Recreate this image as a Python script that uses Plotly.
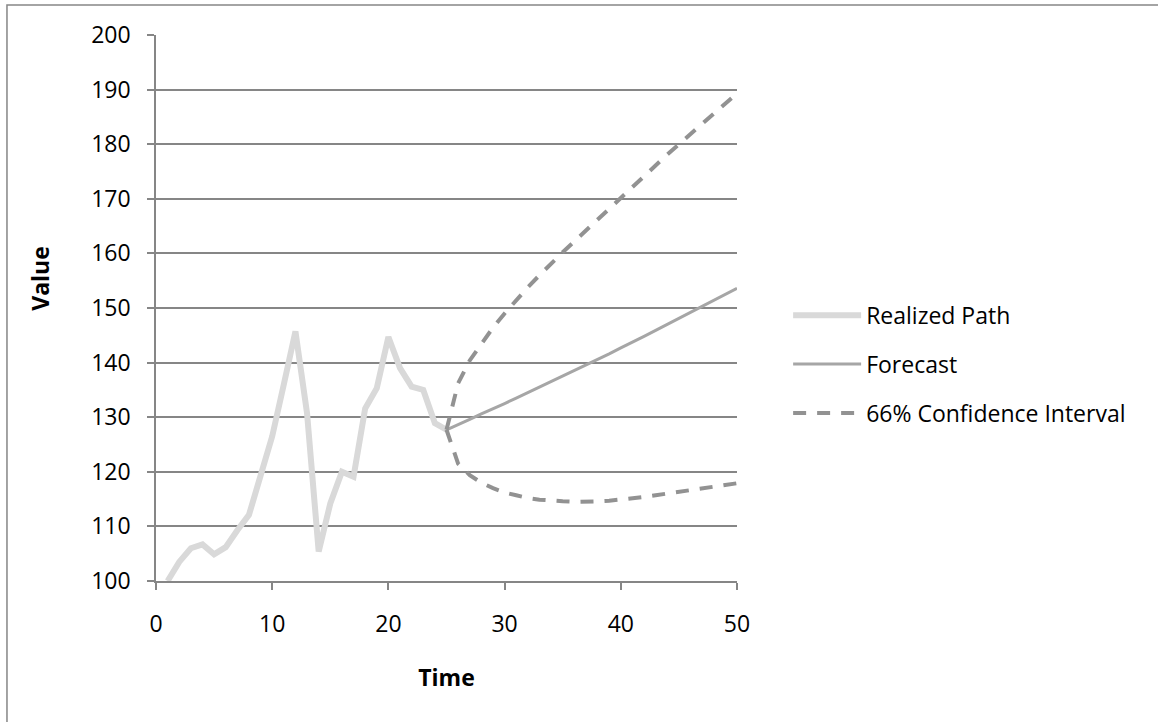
import plotly.graph_objects as go

# Observed path (t = 1..25)
realized_t = list(range(1, 26))
realized_v = [100.0, 103.5, 106.0, 106.7, 104.9, 106.2, 109.3, 112.1, 119.3, 126.5,
              136.0, 145.7, 130.7, 105.4, 114.2, 120.0, 119.1, 131.6, 135.3, 144.7,
              139.0, 135.6, 135.0, 128.9, 127.7]

# Forecast horizon (t = 25..50)
forecast_t = list(range(25, 51))
forecast_v = [127.7, 128.6, 129.6, 130.6, 131.5, 132.5, 133.5, 134.5, 135.5, 136.5,
              137.5, 138.5, 139.5, 140.6, 141.6, 142.7, 143.7, 144.8, 145.9, 147.0,
              148.0, 149.1, 150.2, 151.4, 152.5, 153.6]

# 66% band around the forecast
ci_upper = [127.7, 136.2, 140.4, 143.5, 146.4, 149.0, 151.5, 153.8, 156.0, 158.2,
            160.2, 162.2, 164.2, 166.2, 168.3, 170.3, 172.2, 174.2, 176.2, 178.1,
            180.0, 181.9, 183.7, 185.6, 187.5, 189.3]
ci_lower = [127.7, 121.5, 119.4, 118.0, 117.0, 116.2, 115.7, 115.2, 114.9, 114.7,
            114.6, 114.5, 114.5, 114.6, 114.7, 114.9, 115.1, 115.4, 115.7, 116.0,
            116.3, 116.6, 116.9, 117.2, 117.6, 117.9]

y_ticks = [100, 110, 120, 130, 140, 150, 160, 170, 180, 190, 200]
x_ticks = [0, 10, 20, 30, 40, 50]

FONT = "Open Sans"
FSIZE = 23
AXIS_GREY = "#868686"
CI_GREY = "#929292"
DASH = "13px,11px"

fig = go.Figure()

fig.add_trace(go.Scatter(
    x=realized_t, y=realized_v, mode="lines", name="Realized Path",
    legendgroup="a", line=dict(color="#D9D9D9", width=6),
))
fig.add_trace(go.Scatter(
    x=forecast_t, y=forecast_v, mode="lines", name="Forecast",
    legendgroup="b", line=dict(color="#A6A6A6", width=3),
))
fig.add_trace(go.Scatter(
    x=forecast_t, y=ci_upper, mode="lines", name="66% Confidence Interval",
    legendgroup="c", line=dict(color=CI_GREY, width=4, dash=DASH),
))
fig.add_trace(go.Scatter(
    x=forecast_t, y=ci_lower, mode="lines", name="66% Confidence Interval",
    legendgroup="c", showlegend=False,
    line=dict(color=CI_GREY, width=4, dash=DASH),
))

fig.update_layout(
    width=1158, height=722,
    margin=dict(l=156, r=421, t=35, b=141),
    paper_bgcolor="white", plot_bgcolor="white",
    font=dict(family=FONT, size=FSIZE, color="#000000"),
    showlegend=True,
    legend=dict(
        x=1.088, y=0.397, xanchor="left", yanchor="middle",
        traceorder="grouped", tracegroupgap=16, itemwidth=68,
        font=dict(family=FONT, size=FSIZE, color="#000000"),
        bgcolor="rgba(0,0,0,0)",
    ),
    xaxis=dict(
        range=[0, 50], tickmode="array", tickvals=x_ticks,
        showgrid=False, zeroline=False,
        showline=True, linecolor=AXIS_GREY, linewidth=1.5,
        ticks="outside", ticklen=7, tickcolor=AXIS_GREY, tickwidth=1.5,
        ticklabelstandoff=15,
        title=dict(text="<b>Time</b>", standoff=32,
                   font=dict(family=FONT, size=FSIZE)),
    ),
    yaxis=dict(
        range=[100, 200], tickmode="array", tickvals=y_ticks,
        showgrid=True, gridcolor=AXIS_GREY, gridwidth=1.5,
        zeroline=False,
        showline=True, linecolor=AXIS_GREY, linewidth=1.5,
        ticks="outside", ticklen=7, tickcolor=AXIS_GREY, tickwidth=1.5,
        ticklabelstandoff=12,
    ),
    annotations=[dict(
        text="<b>Value</b>", textangle=-90,
        xref="paper", yref="paper", x=-0.2, y=0.555,
        xanchor="center", yanchor="middle", showarrow=False,
        font=dict(family=FONT, size=FSIZE, color="#000000"),
    )],
    shapes=[dict(
        type="rect", xref="paper", yref="paper",
        x0=-0.2565, x1=1.9, y0=-0.4, y1=1.055,
        line=dict(color=AXIS_GREY, width=1.5), fillcolor="rgba(0,0,0,0)",
        layer="below",
    )],
)

fig.write_html("out.html")
